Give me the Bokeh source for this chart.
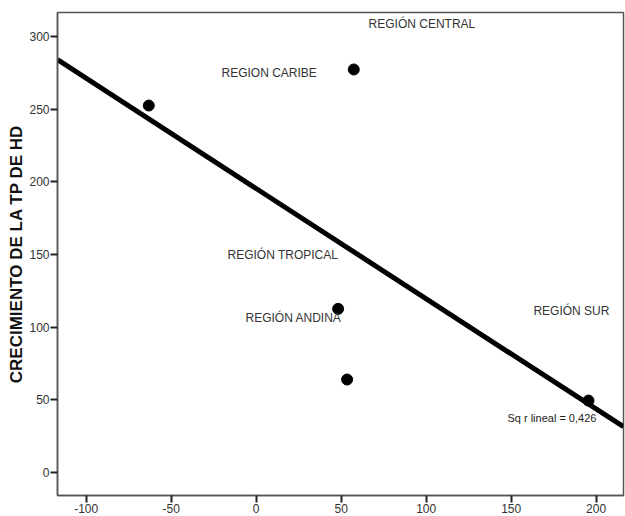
import numpy as np
from bokeh.plotting import figure
from bokeh.models import ColumnDataSource, Range1d, FixedTicker, Label
from bokeh.embed import file_html
from bokeh.resources import INLINE
from bokeh.core.properties import value

# data
x_vals = [-63.2, 57.4, 48.2, 53.5, 195.5]
y_vals = [252.5, 277.3, 112.6, 64.0, 49.5]

region_labels = ["REGIÓN CENTRAL", "REGION CARIBE", "REGIÓN TROPICAL", "REGIÓN ANDINA", "REGIÓN SUR"]
label_x = [66.1, -20.4, -16.9, -6.3, 163.1]
label_y = [308.9, 274.6, 150.0, 106.0, 110.8]

x_ticks = [-100, -50, 0, 50, 100, 150, 200]
y_ticks = [0, 50, 100, 150, 200, 250, 300]
r2_text = "Sq r lineal = 0,426"

FONT = "Liberation Sans"

p = figure(width=625, height=516, output_backend="svg", toolbar_location=None,
           x_range=Range1d(-116.9, 216.1), y_range=Range1d(-15.8, 316.5),
           min_border_left=57, min_border_right=2, min_border_top=12, min_border_bottom=21)
p.grid.visible = False
p.outline_line_color = "#555555"
p.outline_line_width = 1.5

for ax in (p.xaxis[0], p.yaxis[0]):
    ax.axis_line_color = "#555555"
    ax.axis_line_width = 1.5
    ax.major_tick_line_color = "#222222"
    ax.major_tick_line_width = 2
    ax.major_tick_out = 7
    ax.major_tick_in = 0
    ax.minor_tick_line_color = None
    ax.major_label_text_font = FONT
    ax.major_label_text_font_size = "12px"
    ax.major_label_text_color = "#333333"
    ax.major_label_standoff = 1

p.xaxis.ticker = FixedTicker(ticks=x_ticks)
p.yaxis.ticker = FixedTicker(ticks=y_ticks)
p.xaxis.major_label_overrides = {t: str(t) for t in x_ticks}
p.yaxis.major_label_overrides = {t: str(t) for t in y_ticks}
p.yaxis.axis_label = "CRECIMIENTO DE LA TP DE HD"
p.yaxis.axis_label_text_font = FONT
p.yaxis.axis_label_text_font_style = "bold"
p.yaxis.axis_label_text_font_size = "17px"
p.yaxis.axis_label_text_color = "#111111"
p.yaxis.axis_label_standoff = 0

# regression line
xa = np.array(x_vals)
ya = np.array(y_vals)
slope, intercept = np.polyfit(xa, ya, 1)
xl = np.array([p.x_range.start, p.x_range.end])
p.line(xl, intercept + slope * xl, line_color="black", line_width=5)

src = ColumnDataSource(dict(x=x_vals, y=y_vals))
p.scatter("x", "y", source=src, size=11, fill_color="black", line_color="black")

lsrc = ColumnDataSource(dict(x=label_x, y=label_y, t=region_labels))
p.text("x", "y", text="t", source=lsrc, text_font=value(FONT), text_font_size="12px",
       text_color="#333333", text_baseline="middle", text_align="left")

p.add_layout(Label(x=147.8, y=37.8, text=r2_text, text_font=FONT, text_font_size="11px",
                   text_color="#222222", text_baseline="middle", text_align="left"))

open("out.html", "w").write(file_html(p, INLINE))
